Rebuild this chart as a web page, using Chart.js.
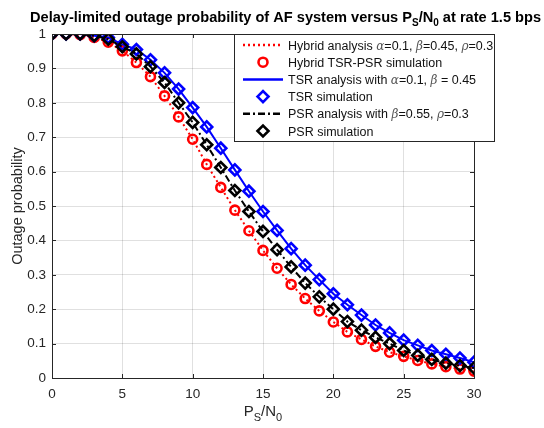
<!DOCTYPE html>
<html lang="en">
<head>
    <meta charset="UTF-8">
    <title>Outage probability</title>
    <script src="https://cdn.jsdelivr.net/npm/chart.js@4.4.0/dist/chart.umd.min.js"></script>
    <style>
        body { margin: 0; background: #fff; }
        #wrap { width: 544px; height: 428px; }
    </style>
</head>
<body>
    <div id="wrap"><canvas id="chart" width="544" height="428"></canvas></div>

    <script>
        // data (x = Ps/N0, y = outage probability)
        var snr = [0, 1, 2, 3, 4, 5, 6, 7, 8, 9, 10, 11, 12, 13, 14, 15, 16, 17, 18, 19, 20,
                   21, 22, 23, 24, 25, 26, 27, 28, 29, 30];
        var hybrid = [1.0, 1.0, 0.998, 0.99, 0.976, 0.951, 0.917, 0.876, 0.82, 0.759, 0.694,
                      0.621, 0.554, 0.488, 0.428, 0.371, 0.319, 0.272, 0.231, 0.195, 0.163,
                      0.134, 0.112, 0.092, 0.075, 0.063, 0.051, 0.041, 0.033, 0.026, 0.02];
        var tsr = [1.0, 1.0, 1.0, 0.995, 0.99, 0.97, 0.955, 0.925, 0.887, 0.84, 0.786,
                   0.73, 0.668, 0.605, 0.543, 0.484, 0.429, 0.376, 0.328, 0.286, 0.245,
                   0.213, 0.183, 0.154, 0.131, 0.11, 0.095, 0.08, 0.069, 0.058, 0.046];
        var psr = [1.0, 1.0, 1.0, 0.995, 0.985, 0.963, 0.942, 0.905, 0.859, 0.80, 0.743,
                   0.678, 0.612, 0.545, 0.484, 0.426, 0.373, 0.323, 0.276, 0.236, 0.2,
                   0.164, 0.139, 0.118, 0.1, 0.08, 0.066, 0.054, 0.043, 0.036, 0.029];
        var xTicks = [0, 5, 10, 15, 20, 25, 30];
        var legendLabels = [
            'Hybrid analysis \u03b1=0.1, \u03b2=0.45, \u03c1=0.3',
            'Hybrid TSR-PSR simulation',
            'TSR analysis with \u03b1=0.1, \u03b2 = 0.45',
            'TSR simulation',
            'PSR analysis with \u03b2=0.55, \u03c1=0.3',
            'PSR simulation'
        ];

        var FONT = '"Liberation Sans", Arial, sans-serif';
        var AXIS_COLOR = '#262626';

        function pts(ys) {
            return snr.map(function (x, i) { return { x: x, y: ys[i] }; });
        }

        function lineSet(label, ys, color, dash, order) {
            return {
                label: label, data: pts(ys), borderColor: color, borderWidth: 2,
                borderDash: dash, pointRadius: 0, fill: false, tension: 0, order: order
            };
        }

        function markerSet(label, ys, color, style, r, order) {
            return {
                label: label, data: pts(ys), showLine: false, borderColor: color,
                backgroundColor: 'rgba(0,0,0,0)', pointStyle: style, pointRadius: r,
                pointBorderWidth: 2.6, order: order
            };
        }

        // draw text made of parts (for subscripts and greek letters)
        function drawParts(ctx, parts, x, y, align) {
            var total = 0;
            parts.forEach(function (p) { ctx.font = p.font; total += ctx.measureText(p.t).width; });
            var cx = align === 'center' ? x - total / 2 : x;
            ctx.textAlign = 'left';
            ctx.textBaseline = 'alphabetic';
            parts.forEach(function (p) {
                ctx.font = p.font;
                ctx.fillStyle = p.color || '#000';
                ctx.fillText(p.t, cx, y + (p.dy || 0));
                cx += ctx.measureText(p.t).width;
            });
        }

        function legendParts(text) {
            var parts = [];
            var buf = '';
            for (var i = 0; i < text.length; i++) {
                var c = text[i];
                if (/[\u03b1-\u03c9]/.test(c)) {
                    if (buf) parts.push({ t: buf, font: '12.5px ' + FONT, color: '#111' });
                    buf = '';
                    parts.push({ t: c, font: 'italic 12px "DejaVu Serif", serif', color: '#555' });
                } else {
                    buf += c;
                }
            }
            if (buf) parts.push({ t: buf, font: '12.5px ' + FONT, color: '#111' });
            return parts;
        }

        var decorPlugin = {
            id: 'decor',
            beforeDraw: function (chart) {
                var ctx = chart.ctx;
                ctx.save();
                ctx.fillStyle = '#fff';
                ctx.fillRect(0, 0, chart.width, chart.height);
                ctx.restore();
            },
            afterDatasetsDraw: function (chart) {
                var ctx = chart.ctx;
                var a = chart.chartArea;
                var xs = chart.scales.x, ys = chart.scales.y;
                ctx.save();
                // box
                ctx.strokeStyle = AXIS_COLOR;
                ctx.lineWidth = 1;
                ctx.strokeRect(a.left + 0.5, a.top + 0.5, a.right - a.left, a.bottom - a.top);
                // inward ticks
                ctx.beginPath();
                xTicks.forEach(function (v) {
                    var px = Math.round(xs.getPixelForValue(v)) + 0.5;
                    ctx.moveTo(px, a.bottom); ctx.lineTo(px, a.bottom - 4);
                    ctx.moveTo(px, a.top); ctx.lineTo(px, a.top + 4);
                });
                for (var k = 0; k <= 10; k++) {
                    var py = Math.round(ys.getPixelForValue(k / 10)) + 0.5;
                    ctx.moveTo(a.left, py); ctx.lineTo(a.left + 4, py);
                    ctx.moveTo(a.right, py); ctx.lineTo(a.right - 4, py);
                }
                ctx.stroke();
                ctx.restore();
            },
            afterDraw: function (chart) {
                var ctx = chart.ctx;
                var a = chart.chartArea;
                ctx.save();

                // title
                var tf = 'bold 14.6px ' + FONT, sf = 'bold 10px ' + FONT;
                drawParts(ctx, [
                    { t: 'Delay-limited outage probability of AF system versus P', font: tf },
                    { t: 'S', font: sf, dy: 4 },
                    { t: '/N', font: tf },
                    { t: '0', font: sf, dy: 4 },
                    { t: ' at rate 1.5 bps', font: tf }
                ], 30, 22, 'left');

                // x axis label
                var lf = '15px ' + FONT, lsf = '11px ' + FONT;
                drawParts(ctx, [
                    { t: 'P', font: lf, color: AXIS_COLOR },
                    { t: 'S', font: lsf, dy: 5, color: AXIS_COLOR },
                    { t: '/N', font: lf, color: AXIS_COLOR },
                    { t: '0', font: lsf, dy: 5, color: AXIS_COLOR }
                ], (a.left + a.right) / 2, 416, 'center');

                // y axis label
                ctx.save();
                ctx.translate(18, (a.top + a.bottom) / 2);
                ctx.rotate(-Math.PI / 2);
                ctx.font = '14.5px ' + FONT;
                ctx.fillStyle = AXIS_COLOR;
                ctx.textAlign = 'center';
                ctx.textBaseline = 'middle';
                ctx.fillText('Outage probability', 0, 0);
                ctx.restore();

                // legend box
                var bx = 234, by = a.top, bw = 260, bh = 107;
                ctx.fillStyle = '#fff';
                ctx.fillRect(bx, by, bw, bh);
                ctx.strokeStyle = AXIS_COLOR;
                ctx.lineWidth = 1;
                ctx.strokeRect(bx + 0.5, by + 0.5, bw, bh);

                var sets = chart.data.datasets;
                legendLabels.forEach(function (txt, i) {
                    var ds = sets[i];
                    var rowY = by + 11 + i * 17.2;
                    if (ds.showLine === false) {
                        ctx.save();
                        ctx.lineWidth = ds.pointBorderWidth;
                        ctx.strokeStyle = ds.borderColor;
                        ctx.fillStyle = '#fff';
                        Chart.helpers.drawPoint(ctx, {
                            pointStyle: ds.pointStyle, radius: ds.pointRadius, borderWidth: ds.pointBorderWidth
                        }, 263, rowY);
                        ctx.restore();
                    } else {
                        ctx.save();
                        ctx.strokeStyle = ds.borderColor;
                        ctx.lineWidth = 2.5;
                        ctx.setLineDash(ds.borderDash || []);
                        ctx.beginPath();
                        ctx.moveTo(243, rowY); ctx.lineTo(283, rowY);
                        ctx.stroke();
                        ctx.restore();
                    }
                    drawParts(ctx, legendParts(txt), 288, rowY + 4.5, 'left');
                });

                ctx.restore();
            }
        };

        var chart = new Chart(document.getElementById('chart').getContext('2d'), {
            type: 'line',
            data: {
                datasets: [
                    lineSet('Hybrid analysis', hybrid, '#ff0000', [2, 3], 5),
                    markerSet('Hybrid sim', hybrid, '#ff0000', 'circle', 4.5, 4),
                    lineSet('TSR analysis', tsr, '#0000ff', [], 3),
                    markerSet('TSR sim', tsr, '#0000ff', 'rectRot', 5.5, 2),
                    lineSet('PSR analysis', psr, '#000000', [7, 3, 2, 3], 1),
                    markerSet('PSR sim', psr, '#000000', 'rectRot', 5.5, 0)
                ]
            },
            options: {
                responsive: false,
                animation: false,
                layout: { padding: { left: 0, top: 34, right: 70, bottom: 0 } },
                plugins: {
                    legend: { display: false },
                    title: { display: false },
                    tooltip: { enabled: false }
                },
                scales: {
                    x: {
                        type: 'linear', min: 0, max: 30,
                        afterBuildTicks: function (s) { s.ticks = xTicks.map(function (v) { return { value: v }; }); },
                        afterFit: function (s) { s.height = 50; },
                        grid: { color: 'rgba(0,0,0,0.12)', drawTicks: false },
                        border: { display: false },
                        ticks: { padding: 8, color: AXIS_COLOR, font: { family: FONT, size: 13.5 }, maxRotation: 0 }
                    },
                    y: {
                        min: 0, max: 1,
                        afterFit: function (s) { s.width = 52; },
                        grid: { color: 'rgba(0,0,0,0.12)', drawTicks: false },
                        border: { display: false },
                        ticks: {
                            stepSize: 0.1, padding: 6, color: AXIS_COLOR,
                            font: { family: FONT, size: 13.5 },
                            callback: function (v) { return +v.toFixed(1); }
                        }
                    }
                }
            },
            plugins: [decorPlugin]
        });
    </script>
</body>
</html>
